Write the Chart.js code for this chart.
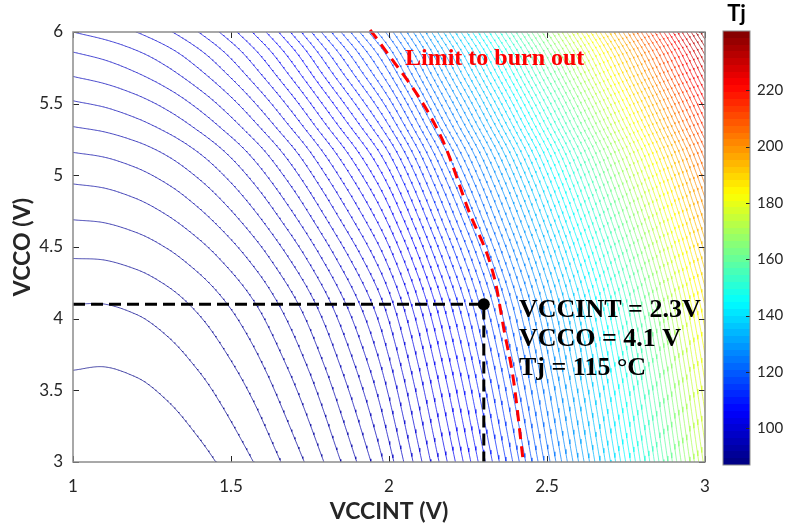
<!DOCTYPE html>
<html>
<head>
<meta charset="utf-8">
<script src="https://cdn.jsdelivr.net/npm/chart.js@4.4.1/dist/chart.umd.min.js"></script>
<style>
  html, body { margin: 0; padding: 0; background: #fff; }
  #wrap { position: relative; width: 785px; height: 529px; }
  #wrap canvas { position: absolute; left: 0; top: 0; }
</style>
</head>
<body>
<div id="wrap">
  <canvas id="plot" width="785" height="529"></canvas>
  <canvas id="bar" width="785" height="529"></canvas>
</div>
<script>
// axes
const vccintTicks = [1, 1.5, 2, 2.5, 3];
const vccoTicks = [3, 3.5, 4, 4.5, 5, 5.5, 6];
const tjTicks = [100, 120, 140, 160, 180, 200, 220];
const tjRange = [87, 241];

// Tj (°C) of every contour line, innermost arc first
const tjLevels = [
  88.1, 89.0, 89.9, 90.8, 91.7, 92.7, 93.6, 94.6, 95.6, 96.7,
  97.7, 98.8, 99.8, 100.9, 102.0, 103.2, 104.3, 105.5, 106.7, 107.9,
  109.1, 110.3, 111.6, 112.9, 114.1, 115.5, 116.8, 118.1, 119.5, 120.9,
  122.3, 123.7, 125.1, 126.6, 128.0, 129.5, 131.0, 132.5, 134.1, 135.6,
  137.2, 138.8, 140.4, 142.0, 143.7, 145.3, 147.0, 148.7, 150.4, 152.1,
  153.9, 155.7, 157.5, 159.3, 161.1, 162.9, 164.8, 166.6, 168.5, 170.4,
  172.4, 174.3, 176.3, 178.3, 180.3, 182.3, 184.3, 186.4, 188.4, 190.5,
  192.6, 194.7, 196.9, 199.0, 201.2, 203.4, 205.6, 207.8, 210.1, 212.4,
  214.6, 216.9, 219.2, 221.6, 223.9, 226.3, 228.7, 231.1, 233.5, 236.0,
  238.4, 240.9
];

// where the contour lines cross the plot edges (contour number, 0 = innermost arc)
// bottom edge, VCCO = 3 V
const bottomVccint = [1.0, 1.1, 1.2, 1.3, 1.4, 1.452, 1.571, 1.658, 1.732, 1.794, 1.848, 1.898, 1.943, 1.982, 2.2, 2.4, 2.6, 2.8, 3.0];
const bottomLine = [-1.14, -1.24, -1.14, -0.84, -0.34, 0, 1, 2, 3, 4, 5, 6, 7, 8, 15.6, 24.4, 35, 47.3, 61.4];
// top edge, VCCO = 6 V
const topVccint = [1.0, 1.1, 1.2, 1.3, 1.4, 1.5, 1.6, 1.7, 1.8, 1.9, 2.0, 2.2, 2.5, 3.0];
const topLine = [10, 10.4, 11.0, 11.85, 13.05, 14.65, 16.75, 19.35, 22.45, 25.75, 29.45, 39.5, 57, 91];
// left edge, VCCINT = 1 V
const leftVcco = [3.0, 3.64, 4.1, 4.42, 4.69, 4.94, 5.16, 5.34, 5.52, 5.69, 5.86, 6.0];
const leftLine = [-1.14, 0, 1, 2, 3, 4, 5, 6, 7, 8, 9, 10];

// red dashed "limit to burn out" line
const limitVccint = [1.940, 1.972, 2.167, 2.250, 2.335, 2.364, 2.394, 2.425];
const limitVcco = [6.014, 5.923, 5.258, 4.765, 4.270, 3.921, 3.572, 3.0];

// operating point
const opVccint = 2.3;
const opVcco = 4.1;
const opLabel = ['VCCINT = 2.3V', 'VCCO = 4.1 V', 'Tj = 115 \u00b0C'];

// monotone cubic through the read points
function pchip(xs, ys) {
  const n = xs.length, h = [], d = [], m = [];
  for (let i = 0; i < n - 1; i++) {
    h[i] = xs[i + 1] - xs[i];
    d[i] = (ys[i + 1] - ys[i]) / h[i];
  }
  m[0] = d[0];
  m[n - 1] = d[n - 2];
  for (let i = 1; i < n - 1; i++) {
    if (d[i - 1] * d[i] <= 0) m[i] = 0;
    else {
      const w1 = 2 * h[i] + h[i - 1], w2 = h[i] + 2 * h[i - 1];
      m[i] = (w1 + w2) / (w1 / d[i - 1] + w2 / d[i]);
    }
  }
  return function (x) {
    if (x <= xs[0]) return ys[0] + m[0] * (x - xs[0]);
    if (x >= xs[n - 1]) return ys[n - 1] + m[n - 1] * (x - xs[n - 1]);
    let i = 0;
    while (x > xs[i + 1]) i++;
    const t = (x - xs[i]) / h[i], t2 = t * t, t3 = t2 * t;
    return (2 * t3 - 3 * t2 + 1) * ys[i] + (t3 - 2 * t2 + t) * h[i] * m[i]
         + (-2 * t3 + 3 * t2) * ys[i + 1] + (t3 - t2) * h[i] * m[i + 1];
  };
}

function jet(t, alpha) {
  const c = v => Math.round(255 * Math.min(1, Math.max(0, v)));
  return 'rgba(' + c(1.5 - Math.abs(4 * t - 3)) + ',' + c(1.5 - Math.abs(4 * t - 2)) + ',' + c(1.5 - Math.abs(4 * t - 1)) + ',' + alpha + ')';
}
const tjColor = tj => jet((tj - tjRange[0]) / (tjRange[1] - tjRange[0]), 0.72);

// contour n: blend bottom and top edge, left edge gives the VCCO profile
const atBottom = pchip(bottomVccint, bottomLine);
const atTop = pchip(topVccint, topLine);
const vccoOf = pchip(leftLine, leftVcco);
const lo = leftLine[0], hi = leftLine[leftLine.length - 1];

function contour(n) {
  const raw = [];
  for (let i = 0; i <= 800; i++) {
    const x = 1 + 2 * i / 800;
    const b = atBottom(x);
    const k = (n - b) / (atTop(x) - b);
    raw.push({ x: x, y: vccoOf(lo + k * (hi - lo)) });
  }
  const inside = p => p && p.y >= 3 && p.y <= 6;
  return raw.filter((p, i) => inside(p) || inside(raw[i - 1]) || inside(raw[i + 1]));
}

const overlays = [
  { // operating point
    data: [{ x: opVccint, y: opVcco }],
    pointRadius: 6, backgroundColor: '#000', borderWidth: 0, showLine: false
  },
  {
    data: [{ x: 1, y: opVcco }, { x: opVccint, y: opVcco }, { x: opVccint, y: 3 }],
    showLine: true, borderColor: '#000', borderWidth: 3, borderDash: [12, 6]
  },
  {
    data: limitVccint.map((v, i) => ({ x: v, y: limitVcco[i] })),
    showLine: true, borderColor: '#ff0000', borderWidth: 3, borderDash: [11, 7],
    cubicInterpolationMode: 'monotone', clip: 6
  }
];

const contours = tjLevels.map((tj, n) => ({
  data: contour(n),
  showLine: true, borderColor: tjColor(tj), borderWidth: 1, clip: 0
}));

const frame = {
  id: 'frame',
  afterDraw(chart) {
    const { ctx, chartArea: a, scales: { x, y } } = chart;
    ctx.save();
    ctx.strokeStyle = '#262626';
    ctx.lineWidth = 1;
    ctx.beginPath();
    vccintTicks.forEach(v => {
      const px = Math.round(x.getPixelForValue(v)) + 0.5;
      ctx.moveTo(px, a.bottom); ctx.lineTo(px, a.bottom - 6);
      ctx.moveTo(px, a.top); ctx.lineTo(px, a.top + 6);
    });
    vccoTicks.forEach(v => {
      const py = Math.round(y.getPixelForValue(v)) + 0.5;
      ctx.moveTo(a.left, py); ctx.lineTo(a.left + 6, py);
      ctx.moveTo(a.right, py); ctx.lineTo(a.right - 6, py);
    });
    ctx.stroke();
    ctx.strokeStyle = '#8c8c8c';
    ctx.lineWidth = 1.5;
    ctx.strokeRect(a.left, a.top, a.width, a.height);

    // annotations
    ctx.fillStyle = '#ff0000';
    ctx.font = 'bold 24px "Liberation Serif"';
    ctx.textBaseline = 'alphabetic';
    ctx.fillText('Limit to burn out', 405, 65);
    ctx.fillStyle = '#000';
    ctx.font = 'bold 26px "Liberation Serif"';
    opLabel.forEach((s, i) => ctx.fillText(s, 519, 317 + i * 29));
    ctx.restore();
  }
};

const tickFont = { family: 'Lato', size: 17 };
const titleFont = { family: 'Lato', size: 23, weight: 'bold' };

new Chart(document.getElementById('plot'), {
  type: 'scatter',
  data: { datasets: overlays.concat(contours) },
  options: {
    responsive: false,
    animation: false,
    events: [],
    layout: { padding: { top: 32, right: 80, left: 0, bottom: 0 } },
    elements: { point: { radius: 0 } },
    plugins: { legend: { display: false }, tooltip: { enabled: false } },
    scales: {
      x: {
        type: 'linear', min: 1, max: 3,
        afterBuildTicks: s => { s.ticks = vccintTicks.map(v => ({ value: v })); },
        afterFit: s => { s.height = 67; },
        grid: { display: false, drawTicks: false },
        border: { display: false },
        ticks: { color: '#262626', font: tickFont, padding: 14, callback: v => String(v) },
        title: { display: true, text: 'VCCINT (V)', color: '#262626', font: titleFont, padding: { top: 0, bottom: 4 } }
      },
      y: {
        type: 'linear', min: 3, max: 6,
        afterBuildTicks: s => { s.ticks = vccoTicks.map(v => ({ value: v })); },
        afterFit: s => { s.width = 73; },
        grid: { display: false, drawTicks: false },
        border: { display: false },
        ticks: { color: '#262626', font: tickFont, padding: 10, callback: v => String(v) },
        title: { display: true, text: 'VCCO (V)', color: '#262626', font: titleFont, padding: { top: 9, bottom: 0 } }
      }
    }
  },
  plugins: [frame]
});

// colour bar
function jetFill(chart) {
  const a = chart.chartArea;
  if (!a) return null;
  const g = chart.ctx.createLinearGradient(0, a.bottom, 0, a.top);
  for (let i = 0; i < 64; i++) {
    g.addColorStop(i / 64, jet((i + 0.5) / 64, 1));
    g.addColorStop((i + 1) / 64, jet((i + 0.5) / 64, 1));
  }
  return g;
}

const barFrame = {
  id: 'barFrame',
  afterDraw(chart) {
    const { ctx, chartArea: a, scales: { y } } = chart;
    ctx.save();
    ctx.strokeStyle = '#262626';
    ctx.lineWidth = 1;
    ctx.beginPath();
    tjTicks.forEach(v => {
      const py = Math.round(y.getPixelForValue(v)) + 0.5;
      ctx.moveTo(a.right, py); ctx.lineTo(a.right - 4, py);
    });
    ctx.stroke();
    ctx.strokeStyle = '#8c8c8c';
    ctx.strokeRect(a.left, a.top, a.width, a.height);
    ctx.fillStyle = '#000';
    ctx.font = 'bold 22px Lato';
    ctx.textAlign = 'center';
    ctx.fillText('Tj', (a.left + a.right) / 2, 21);
    ctx.restore();
  }
};

new Chart(document.getElementById('bar'), {
  type: 'bar',
  data: {
    labels: ['Tj'],
    datasets: [{ data: [tjRange], backgroundColor: c => jetFill(c.chart), borderWidth: 0, barPercentage: 1, categoryPercentage: 1 }]
  },
  options: {
    responsive: false,
    animation: false,
    events: [],
    layout: { padding: { left: 723, top: 31, bottom: 64, right: 0 } },
    plugins: { legend: { display: false }, tooltip: { enabled: false } },
    scales: {
      x: { display: false },
      y: {
        position: 'right', min: tjRange[0], max: tjRange[1],
        afterBuildTicks: s => { s.ticks = tjTicks.map(v => ({ value: v })); },
        afterFit: s => { s.width = 35; },
        grid: { display: false, drawTicks: false },
        border: { display: false },
        ticks: { color: '#262626', font: { family: 'Lato', size: 15 }, padding: 7 }
      }
    }
  },
  plugins: [barFrame]
});
</script>
</body>
</html>
